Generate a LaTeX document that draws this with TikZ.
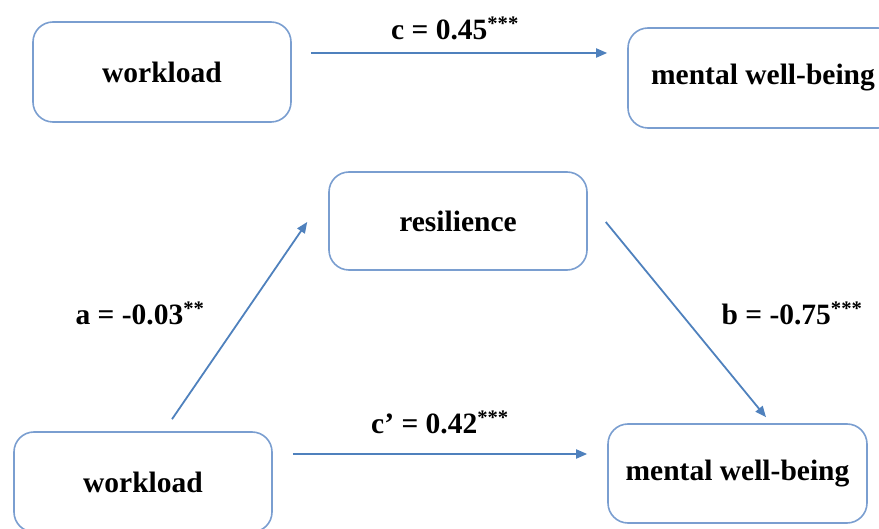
\documentclass[tikz,border=0pt]{standalone}
\usepackage{fontspec}
\setmainfont{Liberation Serif}
\usetikzlibrary{arrows.meta}
\definecolor{boxc}{RGB}{122,158,208}
\definecolor{arrc}{RGB}{79,129,189}
\tikzset{
  varbox/.style={draw=boxc, line width=1.6pt, rounded corners=20pt, fill=white,
    font=\fontsize{29.5}{34}\selectfont\bfseries, inner sep=0pt},
  arr/.style={draw=arrc, line width=1.8pt, -{Triangle[length=11pt,width=9pt]}},
  lbl/.style={font=\fontsize{29.5}{34}\selectfont\bfseries, inner sep=0pt}
}
\begin{document}
\begin{tikzpicture}[x=1pt,y=-1pt]
\useasboundingbox (0,0) rectangle (879,529);
\begin{scope}
\clip (0,0) rectangle (879,529);
% top model
\node[varbox, minimum width=258pt, minimum height=100pt] (wl1) at (162,72) {workload};
\node[varbox, minimum width=270pt, minimum height=100pt] (mwb1) at (763,78) {mental well-being};
% mediation model
\node[varbox, minimum width=258pt, minimum height=98pt] (res) at (458,221) {resilience};
\node[varbox, minimum width=258pt, minimum height=100pt] (wl2) at (143,482) {workload};
\node[varbox, minimum width=259pt, minimum height=99pt] (mwb2) at (737.5,473.5) {mental well-being};
\end{scope}
% arrows
\draw[arr] ([xshift=19pt,yshift=19pt]wl1.east) -- ([xshift=-20pt,yshift=25pt]mwb1.west);
\draw[arr] ([xshift=29pt,yshift=12pt]wl2.north) -- ([xshift=-21pt,yshift=-1pt]res.west);
\draw[arr] ([xshift=18pt,yshift=-1pt]res.east) -- ([xshift=28.5pt,yshift=6pt]mwb2.north);
\draw[arr] ([xshift=20pt,yshift=28pt]wl2.east) -- ([xshift=-20pt,yshift=19.5pt]mwb2.west);
% labels
\node[lbl] (lc) at (455,28) {c = 0.45\textsuperscript{***}};
\node[lbl] (la) at (140,313) {a = -0.03\textsuperscript{**}};
\node[lbl] (lb) at (792,313) {b = -0.75\textsuperscript{***}};
\node[lbl] (lcp) at (440,422) {c’ = 0.42\textsuperscript{***}};
\end{tikzpicture}
\end{document}
